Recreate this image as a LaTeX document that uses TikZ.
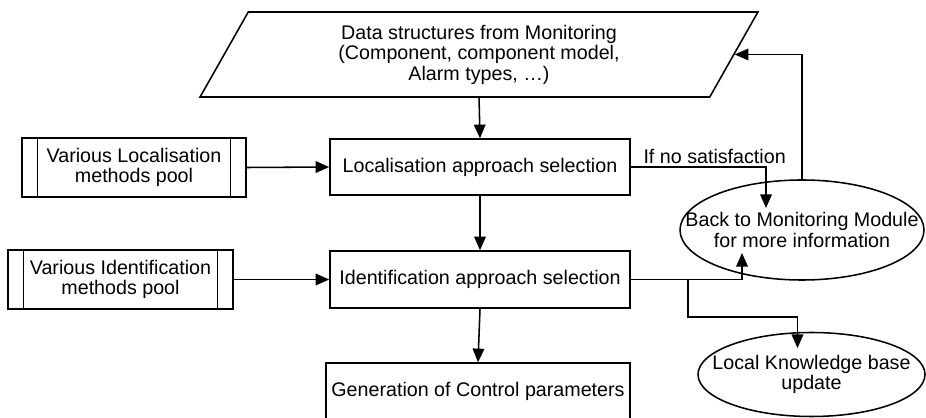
\documentclass[tikz,border=0pt]{standalone}
\usepackage{fontspec}
\setmainfont{Liberation Sans}
\usetikzlibrary{shapes.geometric,arrows.meta}

\tikzset{
  box/.style={draw, line width=1.1pt, minimum width=7.5cm, minimum height=1.4cm, inner sep=0pt},
  pool/.style={draw, line width=1.1pt, minimum width=5.6cm, minimum height=1.475cm, align=center, inner sep=0pt,
    path picture={
      \draw[line width=1.1pt] ([xshift=0.39cm]path picture bounding box.north west) -- ([xshift=0.39cm]path picture bounding box.south west);
      \draw[line width=1.1pt] ([xshift=-0.39cm]path picture bounding box.north east) -- ([xshift=-0.39cm]path picture bounding box.south east);
    }},
  oval/.style={draw, ellipse, line width=1.1pt, inner sep=0pt},
  arr/.style={line width=1.1pt, -{Triangle[length=3.4mm,width=2.9mm]}}
}

\begin{document}
\begin{tikzpicture}[font=\fontsize{14}{14.6}\selectfont]

    \useasboundingbox (0,0) rectangle (23.15,10.45);

    % Input data from monitoring (parallelogram)
    \node[draw, line width=1.1pt, trapezium, trapezium left angle=63.7, trapezium right angle=116.3,
          trapezium stretches=true, minimum width=13.95cm, minimum height=2.125cm, align=center, inner sep=0pt]
          (data) at (11.975,9.0875) {Data structures from Monitoring\\(Component, component model,\\Alarm types, \dots)};

    % Main selection steps
    \node[box] (loc) at (12.0,6.275) {Localisation approach selection};
    \node[box, minimum height=1.425cm] (ident) at (12.0,3.4625) {Identification approach selection};
    \node[box, minimum width=7.6cm] (gen) at (11.95,0.675) {Generation of Control parameters};

    % Method pools on the left
    \node[pool] (locpool) at (3.35,6.2625) {Various Localisation\\methods pool};
    \node[pool, minimum width=5.625cm] (identpool) at (3.0125,3.4625) {Various Identification\\methods pool};

    % Ellipses on the right
    \node[oval, minimum width=6.1cm, minimum height=2.5cm] (back) at (20.05,4.7) {};
    \node[align=center] (backtext) at (back.center) {Back to Monitoring Module\\for more information};
    \node[oval, minimum width=5.675cm, minimum height=2.1cm] (local) at (20.2875,1.0875) {};
    \node[align=center] (localtext) at (local.center) {Local Knowledge base\\update};

    % Arrow ends inside the ellipses
    \coordinate (backin) at ([xshift=-0.9cm,yshift=0.55cm]back.center);
    \coordinate (backout) at ([xshift=-1.5cm,yshift=-0.575cm]back.center);
    \coordinate (localin) at ([xshift=-0.35cm,yshift=0.66cm]local.center);

    % Flow arrows
    \draw[arr] (data.south) -- (loc.north);
    \draw[arr] (loc.south) -- (ident.north);
    \draw[arr] (ident.south) -- (gen.north);
    \draw[arr] (locpool.east) -- (loc.west);
    \draw[arr] (identpool.east) -- (ident.west);

    % Feedback paths
    \draw[arr] (loc.east) -| node[pos=0.31, above, inner sep=2pt] {If no satisfaction} (backin);
    \draw[arr] (back.north) |- (data.east);
    \draw[arr] (ident.east) -| (backout);
    \draw[arr] (ident.east) -- ++(1.425,0) |- ([yshift=0.775cm]localin) -- (localin);

\end{tikzpicture}
\end{document}
